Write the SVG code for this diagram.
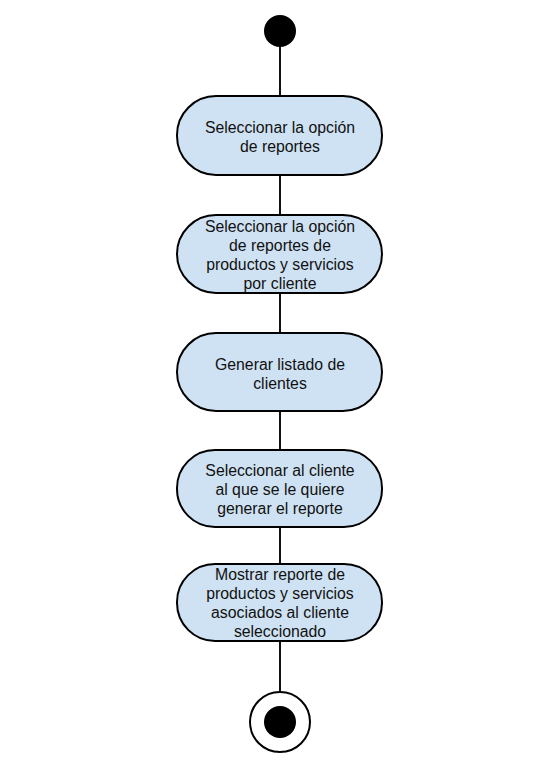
<svg xmlns="http://www.w3.org/2000/svg" width="542" height="779" viewBox="0 0 542 779">
<style>
.act{fill:#cfe2f3;stroke:#000;stroke-width:2}
.t{font-family:"Liberation Sans",Arial,sans-serif;font-size:15.8px;fill:#111;text-anchor:middle}
.c{stroke:#111;stroke-width:2;fill:none}
</style>
<rect width="542" height="779" fill="#fff"/>
<g id="connectors">
<line class="c" x1="280" y1="46" x2="280" y2="96"/>
<line class="c" x1="280" y1="175" x2="280" y2="215"/>
<line class="c" x1="280" y1="293" x2="280" y2="333"/>
<line class="c" x1="280" y1="411" x2="280" y2="450"/>
<line class="c" x1="280" y1="527" x2="280" y2="564"/>
<line class="c" x1="280" y1="641" x2="280" y2="692"/>
</g>
<g id="start"><circle cx="280" cy="31" r="16" fill="#000"/></g>
<g id="n1">
<rect class="act" x="177" y="96" width="205" height="79" rx="39" ry="39"/>
<text class="t" x="280" y="133">Seleccionar la opción</text>
<text class="t" x="280" y="152">de reportes</text>
</g>
<g id="n2">
<rect class="act" x="177" y="215" width="205" height="78" rx="39" ry="39"/>
<text class="t" x="280" y="232">Seleccionar la opción</text>
<text class="t" x="280" y="251">de reportes de</text>
<text class="t" x="280" y="270">productos y servicios</text>
<text class="t" x="280" y="289">por cliente</text>
</g>
<g id="n3">
<rect class="act" x="177" y="333" width="205" height="78" rx="39" ry="39"/>
<text class="t" x="280" y="370">Generar listado de</text>
<text class="t" x="280" y="389">clientes</text>
</g>
<g id="n4">
<rect class="act" x="177" y="450" width="205" height="77" rx="38" ry="38"/>
<text class="t" x="280" y="476">Seleccionar al cliente</text>
<text class="t" x="280" y="495">al que se le quiere</text>
<text class="t" x="280" y="514">generar el reporte</text>
</g>
<g id="n5">
<rect class="act" x="177" y="564" width="205" height="77" rx="38" ry="38"/>
<text class="t" x="280" y="580">Mostrar reporte de</text>
<text class="t" x="280" y="599">productos y servicios</text>
<text class="t" x="280" y="618">asociados al cliente</text>
<text class="t" x="280" y="637">seleccionado</text>
</g>
<g id="end">
<circle cx="280" cy="722" r="30" fill="#fff" stroke="#000" stroke-width="2"/>
<circle cx="280" cy="722" r="16" fill="#000"/>
</g>
</svg>
